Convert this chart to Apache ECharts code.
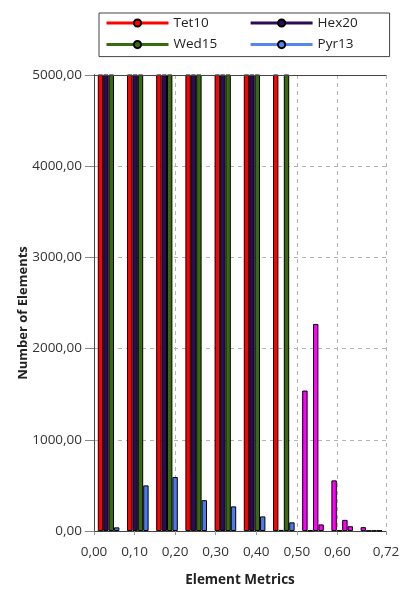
<!DOCTYPE html>
<html>
<head>
<meta charset="utf-8">
<script src="https://cdn.jsdelivr.net/npm/echarts@6/dist/echarts.min.js"></script>
<style>
  html, body { margin: 0; padding: 0; background: #ffffff; }
  #chart { width: 406px; height: 589px; }
</style>
</head>
<body>
<div id="chart"></div>
<script>
// Histogram of the element quality metric, bins 0.072 wide
const binStarts = [0, 0.072, 0.144, 0.216, 0.288, 0.36, 0.432, 0.504, 0.576, 0.648];
const binLabels = ['0,000', '0,072', '0,144', '0,216', '0,288', '0,360', '0,432', '0,504', '0,576', '0,648'];

// Element counts per bin for each element type
const tet10 = [18400, 21700, 26300, 23900, 17200, 12100, 7400, 1540, 555, 42];
const hex20 = [34800, 29600, 24100, 16300, 9800, 5600, 12, 6, 5, 4];
const wed15 = [9600, 12800, 15200, 13100, 10400, 8100, 6200, 2270, 122, 5];
const pyr13 = [40, 500, 592, 338, 270, 160, 95, 72, 52, 5];

// Axis ticks
const xTicks = [0, 0.1, 0.2, 0.3, 0.4, 0.5, 0.6, 0.72];
const yTicks = [0, 1000, 2000, 3000, 4000, 5000];

const seriesNames = ['Tet10', 'Hex20', 'Wed15', 'Pyr13'];
const seriesValues = [tet10, hex20, wed15, pyr13];
const seriesColors = ['#ff0000', '#2c0a58', '#386b10', '#4a7af0'];
const legendColors = ['#ff0000', '#2c0a58', '#386b10', '#5585f2'];

// bins at or above this metric value are flagged
const flagFrom = 0.5;
const flagColor = '#ff00ff';

const fmt = v => Number(v).toFixed(2).replace('.', ',');
const FONT = '"Open Sans", "Noto Sans", sans-serif';

// line-style legend entries (no data), placed first so the legend shows line + marker
const legendSeries = seriesNames.map((name, i) => ({
  name: name,
  type: 'line',
  xAxisIndex: 1,
  yAxisIndex: 0,
  data: [],
  symbol: 'circle',
  lineStyle: { color: legendColors[i], width: 3 },
  itemStyle: { color: legendColors[i], borderColor: '#000', borderWidth: 1 }
}));

const barSeries = seriesNames.map((name, i) => ({
  name: name,
  type: 'bar',
  xAxisIndex: 1,
  yAxisIndex: 0,
  data: seriesValues[i],
  barGap: '0%',
  barCategoryGap: '26%',
  clip: true,
  itemStyle: {
    color: p => (binStarts[p.dataIndex] >= flagFrom ? flagColor : seriesColors[i]),
    borderColor: '#000',
    borderWidth: 1
  }
}));

const chart = echarts.init(document.getElementById('chart'), null, { renderer: 'canvas' });
chart.setOption({
  animation: false,
  backgroundColor: '#ffffff',
  textStyle: { fontFamily: FONT },
  grid: { left: 94, right: 20, top: 75, bottom: 58, containLabel: false, outerBoundsMode: 'none' },
  legend: {
    data: seriesNames,
    left: 99,
    top: 13,
    width: 300,
    orient: 'horizontal',
    padding: [2, 2, 4, 6],
    itemGap: 5.6,
    itemWidth: 62,
    itemHeight: 9,
    lineStyle: { width: 3 },
    borderColor: '#444',
    borderWidth: 1,
    textStyle: { fontFamily: FONT, fontSize: 13.5, color: '#222', width: 70, lineHeight: 16 }
  },
  xAxis: [
    {
      type: 'value',
      position: 'bottom',
      min: 0,
      max: 0.72,
      interval: 0.1,
      name: 'Element Metrics',
      nameLocation: 'middle',
      nameGap: 42,
      nameMoveOverlap: false,
      nameTextStyle: { fontFamily: FONT, fontSize: 13.5, fontWeight: 'bold', color: '#222' },
      axisLine: { show: true, lineStyle: { color: '#444', width: 1 } },
      axisTick: { show: true, customValues: xTicks, length: 4, lineStyle: { color: '#999' } },
      axisLabel: { customValues: xTicks, formatter: fmt, margin: 14, fontSize: 13.5, color: '#333', fontFamily: FONT },
      splitLine: { show: true, lineStyle: { color: '#b4b4b4', type: [4, 4], width: 1 } }
    },
    {
      type: 'category',
      data: binLabels,
      boundaryGap: true,
      show: false
    },
    {
      type: 'value',
      position: 'top',
      min: 0,
      max: 0.72,
      z: 5,
      axisLine: { show: true, lineStyle: { color: '#444', width: 1 } },
      axisTick: { show: false },
      axisLabel: { show: false },
      splitLine: { show: false }
    }
  ],
  yAxis: [
    {
      type: 'value',
      min: yTicks[0],
      max: yTicks[yTicks.length - 1],
      interval: 1000,
      name: 'Number of Elements',
      nameLocation: 'middle',
      nameGap: 64,
      nameMoveOverlap: false,
      nameTextStyle: { fontFamily: FONT, fontSize: 13, fontWeight: 'bold', color: '#222', padding: [0, 20, 0, 0] },
      axisLine: { show: true, lineStyle: { color: '#444', width: 1 } },
      axisTick: { show: true, length: 9, lineStyle: { color: '#888' } },
      axisLabel: { formatter: fmt, margin: 12, fontSize: 13.5, color: '#333', fontFamily: FONT },
      splitLine: { show: true, lineStyle: { color: '#b4b4b4', type: [4, 4], width: 1 } }
    },
    {
      type: 'value',
      position: 'right',
      min: yTicks[0],
      max: yTicks[yTicks.length - 1],
      z: 5,
      axisLine: { show: true, lineStyle: { color: '#444', width: 1 } },
      axisTick: { show: false },
      axisLabel: { show: false },
      splitLine: { show: false }
    }
  ],
  series: legendSeries.concat(barSeries)
});
</script>
</body>
</html>
